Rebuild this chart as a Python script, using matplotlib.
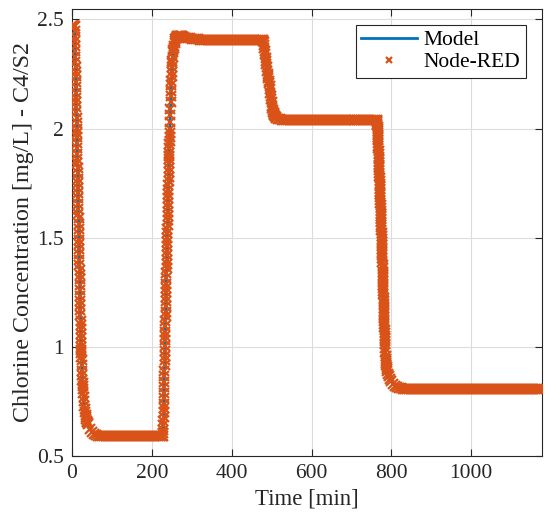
"""Chlorine concentration at C4/S2: model vs Node-RED"""

import numpy as np
import matplotlib
matplotlib.use("Agg")
import matplotlib.pyplot as plt


# Node-RED samples
# first drop (0 -> 70 min)
t_drop1 = [0, 1, 2, 3, 4, 5, 6,
           7, 7.25, 7.5, 7.75, 8, 8.25, 8.5, 8.75, 9, 9.25, 9.5, 9.75,
           10, 10.25, 10.5, 10.75, 11, 11.25, 11.5, 11.75, 12, 12.25, 12.5, 12.75,
           13, 13.25, 13.5, 13.75, 14, 14.25, 14.5, 14.75, 15, 15.25, 15.5, 15.75,
           16, 16.25, 16.5, 16.75, 17, 17.25, 17.5, 17.75, 18, 18.25, 18.5, 18.75,
           19, 19.25, 19.5, 19.75, 20, 20.25, 20.5, 20.75, 21, 21.25, 21.5, 21.75,
           22, 22.25, 22.5, 22.75, 23, 23.25, 23.5, 23.75, 24,
           24.5, 25, 25.5, 26, 26.5, 27, 27.5, 28, 29, 30, 31, 32, 33, 34, 35,
           36, 37, 38, 39, 40,
           45, 50, 55, 60, 65]
c_drop1 = [2.47, 2.47, 2.47, 2.47, 2.47, 2.47, 2.47,
           2.47, 2.445, 2.42, 2.40, 2.38, 2.355, 2.33, 2.305, 2.28, 2.26, 2.24, 2.215,
           2.19, 2.165, 2.14, 2.12, 2.10, 2.075, 2.05, 2.025, 2.00, 1.98, 1.96, 1.935,
           1.91, 1.885, 1.86, 1.84, 1.82, 1.795, 1.77, 1.75, 1.73, 1.705, 1.68, 1.655,
           1.63, 1.61, 1.59, 1.565, 1.54, 1.515, 1.49, 1.47, 1.45, 1.425, 1.40, 1.375,
           1.35, 1.33, 1.31, 1.285, 1.26, 1.235, 1.21, 1.19, 1.17, 1.145, 1.12, 1.10,
           1.08, 1.06, 1.04, 1.02, 1.00, 0.985, 0.97, 0.955, 0.94,
           0.915, 0.89, 0.87, 0.85, 0.835, 0.82, 0.805, 0.79, 0.77, 0.75, 0.73,
           0.715, 0.70, 0.69, 0.68, 0.67, 0.66, 0.655, 0.65, 0.645,
           0.625, 0.61, 0.60, 0.595, 0.59]

# first low plateau
t_low1 = [70, 75, 80, 85, 90, 95, 100, 105, 110, 115,
          120, 125, 130, 135, 140, 145, 150, 155, 160, 165,
          170, 175, 180, 185, 190, 195, 200, 205, 210, 215,
          220, 225]
c_low1 = [0.59, 0.59, 0.59, 0.59, 0.59, 0.59, 0.59, 0.59, 0.59, 0.59,
          0.59, 0.59, 0.59, 0.59, 0.59, 0.59, 0.59, 0.59, 0.59, 0.59,
          0.59, 0.59, 0.59, 0.59, 0.59, 0.59, 0.59, 0.59, 0.59, 0.59,
          0.59, 0.59]

# rise with small overshoot
t_rise = [228, 228.25, 228.5, 228.75, 229, 229.25, 229.5, 229.75,
          230, 230.25, 230.5, 230.75, 231, 231.25, 231.5, 231.75,
          232, 232.25, 232.5, 232.75, 233, 233.25, 233.5, 233.75,
          234, 234.25, 234.5, 234.75, 235, 235.25, 235.5, 235.75,
          236, 236.25, 236.5, 236.75, 237, 237.25, 237.5, 237.75,
          238, 238.25, 238.5, 238.75, 239, 239.25, 239.5, 239.75,
          240, 240.25, 240.5, 240.75, 241, 241.25, 241.5, 241.75,
          242, 242.25, 242.5, 242.75, 243, 243.25, 243.5, 243.75,
          244, 244.25, 244.5, 244.75, 245,
          245.5, 246, 246.5, 247, 247.5, 248, 248.5, 249, 249.5, 250,
          250.5, 251, 251.5, 252,
          253, 254, 255, 256, 257, 258, 259, 260,
          262, 264, 266, 268, 270, 272, 274, 276, 278, 280,
          285, 290, 295, 300, 305, 310, 315, 320, 325, 330]
c_rise = [0.59, 0.605, 0.62, 0.64, 0.66, 0.68, 0.70, 0.72,
          0.74, 0.765, 0.79, 0.815, 0.84, 0.865, 0.89, 0.915,
          0.94, 0.96, 0.98, 1.005, 1.03, 1.05, 1.07, 1.095,
          1.12, 1.14, 1.16, 1.185, 1.21, 1.23, 1.25, 1.27,
          1.29, 1.315, 1.34, 1.36, 1.38, 1.40, 1.42, 1.44,
          1.46, 1.48, 1.50, 1.52, 1.54, 1.56, 1.58, 1.60,
          1.62, 1.64, 1.66, 1.68, 1.70, 1.72, 1.74, 1.76,
          1.78, 1.80, 1.82, 1.84, 1.86, 1.875, 1.89, 1.91,
          1.93, 1.945, 1.96, 1.98, 2.00,
          2.03, 2.06, 2.09, 2.12, 2.15, 2.17, 2.20, 2.22, 2.24, 2.26,
          2.28, 2.30, 2.31, 2.33,
          2.35, 2.36, 2.37, 2.38, 2.39, 2.40, 2.41, 2.415,
          2.42, 2.422, 2.424, 2.425, 2.425, 2.425, 2.424, 2.423, 2.421, 2.419,
          2.417, 2.415, 2.413, 2.412, 2.411, 2.410, 2.409, 2.408, 2.407, 2.406]

# high plateau
t_high = [335, 340, 345, 350, 355, 360, 365, 370, 375, 380,
          385, 390, 395, 400, 405, 410, 415, 420, 425, 430,
          435, 440, 445, 450, 455, 460, 465, 470, 475]
c_high = [2.405, 2.405, 2.405, 2.405, 2.405, 2.405, 2.405, 2.405, 2.405, 2.405,
          2.405, 2.405, 2.405, 2.405, 2.405, 2.405, 2.405, 2.405, 2.405, 2.405,
          2.405, 2.405, 2.405, 2.405, 2.405, 2.405, 2.405, 2.405, 2.405]

# step down to ~2.04
t_drop2 = [478, 479, 480, 481, 482, 483, 484, 485, 486, 487, 488, 489, 490,
           491, 492, 493, 494, 495, 496, 497, 498, 499, 500, 501, 502, 503,
           504, 505, 506, 507, 508, 510, 512, 515, 520, 525]
c_drop2 = [2.405, 2.40, 2.395, 2.385, 2.37, 2.355, 2.34, 2.325, 2.31, 2.295,
           2.28, 2.265, 2.25, 2.24, 2.23, 2.22, 2.21, 2.195, 2.18, 2.165,
           2.15, 2.135, 2.12, 2.105, 2.095, 2.085, 2.077, 2.07, 2.065, 2.06,
           2.056, 2.052, 2.049, 2.046, 2.043, 2.041]

# middle plateau
t_mid = [530, 535, 540, 545, 550, 555, 560, 565, 570, 575,
         580, 585, 590, 595, 600, 605, 610, 615, 620, 625,
         630, 635, 640, 645, 650, 655, 660, 665, 670, 675,
         680, 685, 690, 695, 700, 705, 710, 715, 720, 725,
         730, 735, 740, 745, 750, 755, 760]
c_mid = [2.04, 2.04, 2.04, 2.04, 2.04, 2.04, 2.04, 2.04, 2.04, 2.04,
         2.04, 2.04, 2.04, 2.04, 2.04, 2.04, 2.04, 2.04, 2.04, 2.04,
         2.04, 2.04, 2.04, 2.04, 2.04, 2.04, 2.04, 2.04, 2.04, 2.04,
         2.04, 2.04, 2.04, 2.04, 2.04, 2.04, 2.04, 2.04, 2.04, 2.04,
         2.04, 2.04, 2.04, 2.04, 2.04, 2.04, 2.04]

# last drop
t_drop3 = [764, 764.25, 764.5, 764.75, 765, 765.25, 765.5, 765.75,
           766, 766.25, 766.5, 766.75, 767, 767.25, 767.5, 767.75,
           768, 768.25, 768.5, 768.75, 769, 769.25, 769.5, 769.75,
           770, 770.25, 770.5, 770.75, 771, 771.25, 771.5, 771.75,
           772, 772.25, 772.5, 772.75, 773, 773.25, 773.5, 773.75,
           774, 774.25, 774.5, 774.75, 775, 775.25, 775.5, 775.75,
           776, 776.25, 776.5, 776.75, 777, 777.25, 777.5, 777.75,
           778, 778.25, 778.5, 778.75, 779, 779.25, 779.5, 779.75,
           780, 780.25, 780.5, 780.75, 781, 781.25, 781.5, 781.75,
           782, 782.25, 782.5, 782.75, 783, 783.25, 783.5, 783.75,
           784, 784.5, 785, 785.5, 786, 786.5, 787, 787.5, 788, 789, 790,
           792, 794, 797, 800, 805, 810, 815, 820, 825, 830, 835]
c_drop3 = [2.04, 2.035, 2.03, 2.022, 2.015, 2.008, 2.00, 1.99,
           1.98, 1.97, 1.96, 1.948, 1.935, 1.922, 1.91, 1.898,
           1.885, 1.872, 1.86, 1.848, 1.835, 1.822, 1.81, 1.798,
           1.785, 1.772, 1.76, 1.748, 1.735, 1.722, 1.71, 1.698,
           1.685, 1.672, 1.66, 1.648, 1.635, 1.622, 1.61, 1.598,
           1.585, 1.572, 1.56, 1.548, 1.535, 1.522, 1.51, 1.495,
           1.48, 1.465, 1.45, 1.435, 1.42, 1.405, 1.39, 1.375,
           1.36, 1.345, 1.33, 1.315, 1.30, 1.285, 1.27, 1.255,
           1.24, 1.225, 1.21, 1.195, 1.18, 1.165, 1.15, 1.135,
           1.12, 1.105, 1.09, 1.078, 1.065, 1.052, 1.04, 1.028,
           1.015, 0.995, 0.975, 0.96, 0.945, 0.935, 0.925, 0.917, 0.91, 0.90, 0.89,
           0.875, 0.865, 0.853, 0.843, 0.83, 0.822, 0.816, 0.812, 0.81, 0.808, 0.806]

# final plateau
t_low2 = [840, 845, 850, 855, 860, 865, 870, 875, 880, 885,
          890, 895, 900, 905, 910, 915, 920, 925, 930, 935,
          940, 945, 950, 955, 960, 965, 970, 975, 980, 985,
          990, 995, 1000, 1005, 1010, 1015, 1020, 1025, 1030, 1035,
          1040, 1045, 1050, 1055, 1060, 1065, 1070, 1075, 1080, 1085,
          1090, 1095, 1100, 1105, 1110, 1115, 1120, 1125, 1130, 1135,
          1140, 1145, 1150, 1155, 1160, 1165, 1170, 1175]
c_low2 = [0.805, 0.805, 0.805, 0.805, 0.805, 0.805, 0.805, 0.805, 0.805, 0.805,
          0.805, 0.805, 0.805, 0.805, 0.805, 0.805, 0.805, 0.805, 0.805, 0.805,
          0.805, 0.805, 0.805, 0.805, 0.805, 0.805, 0.805, 0.805, 0.805, 0.805,
          0.805, 0.805, 0.805, 0.805, 0.805, 0.805, 0.805, 0.805, 0.805, 0.805,
          0.805, 0.805, 0.805, 0.805, 0.805, 0.805, 0.805, 0.805, 0.805, 0.805,
          0.805, 0.805, 0.805, 0.805, 0.805, 0.805, 0.805, 0.805, 0.805, 0.805,
          0.805, 0.805, 0.805, 0.805, 0.805, 0.805, 0.805, 0.805]

# model curve (line), key points only; no overshoot after the rise
model_t = [0, 7, 12, 23, 28, 33, 40, 50, 65, 228, 230, 235, 240, 245, 250,
           255, 260, 265, 275, 478, 482, 490, 500, 505, 510, 520, 530, 764,
           770, 776, 784, 788, 794, 800, 810, 830, 1175]
model_c = [2.47, 2.47, 2.00, 1.00, 0.79, 0.70, 0.645, 0.61, 0.59, 0.59, 0.74,
           1.21, 1.62, 2.00, 2.26, 2.37, 2.395, 2.403, 2.405, 2.405, 2.37,
           2.25, 2.12, 2.077, 2.056, 2.043, 2.04, 2.04, 1.785, 1.48, 1.015,
           0.91, 0.865, 0.843, 0.822, 0.806, 0.805]

MODEL_BLUE = "#0072BD"
NODERED_ORANGE = "#D95319"
TXT = "#262626"


if __name__ == "__main__":

    plt.rcParams["font.family"] = ["Liberation Serif", "DejaVu Serif"]

    nr_t = np.concatenate([t_drop1, t_low1, t_rise, t_high, t_drop2,
                           t_mid, t_drop3, t_low2])
    nr_c = np.concatenate([c_drop1, c_low1, c_rise, c_high, c_drop2,
                           c_mid, c_drop3, c_low2])

    fig = plt.figure(figsize=(5.5, 5.25), dpi=100)
    ax = fig.add_axes([0.1309, 0.1314, 0.8545, 0.8524])

    ax.plot(model_t, model_c, color=MODEL_BLUE, lw=2.0, label="Model",
            zorder=3)
    ax.plot(nr_t, nr_c, ls="none", marker="x", ms=7, mew=1.6,
            color=NODERED_ORANGE, label="Node-RED", zorder=4)

    ax.set_xlim(0, 1177)
    ax.set_ylim(0.5, 2.55)
    ax.set_xticks([0, 200, 400, 600, 800, 1000])
    ax.set_yticks([0.5, 1, 1.5, 2, 2.5])
    ax.set_yticklabels(["0.5", "1", "1.5", "2", "2.5"])

    ax.grid(True, color="#dcdcdc", lw=0.8)
    ax.set_axisbelow(True)
    ax.tick_params(direction="in", top=True, right=True, length=5,
                   width=0.8, colors=TXT, labelsize=15.5, pad=6)
    for s in ax.spines.values():
        s.set_color(TXT)
        s.set_linewidth(0.8)

    ax.set_xlabel("Time [min]", fontsize=16.5, color=TXT, labelpad=4)
    ax.set_ylabel("Chlorine Concentration [mg/L] - C4/S2", fontsize=17.3,
                  color=TXT, labelpad=2)

    leg = ax.legend(loc="upper right", fontsize=15.5, frameon=True,
                    fancybox=False, framealpha=1, edgecolor=TXT,
                    handlelength=2.6, handletextpad=0.3, labelspacing=0.1,
                    borderaxespad=0.75, borderpad=0.25, markerscale=0.6)
    leg.get_frame().set_linewidth(0.8)

    plt.savefig("out.png", dpi=100)
